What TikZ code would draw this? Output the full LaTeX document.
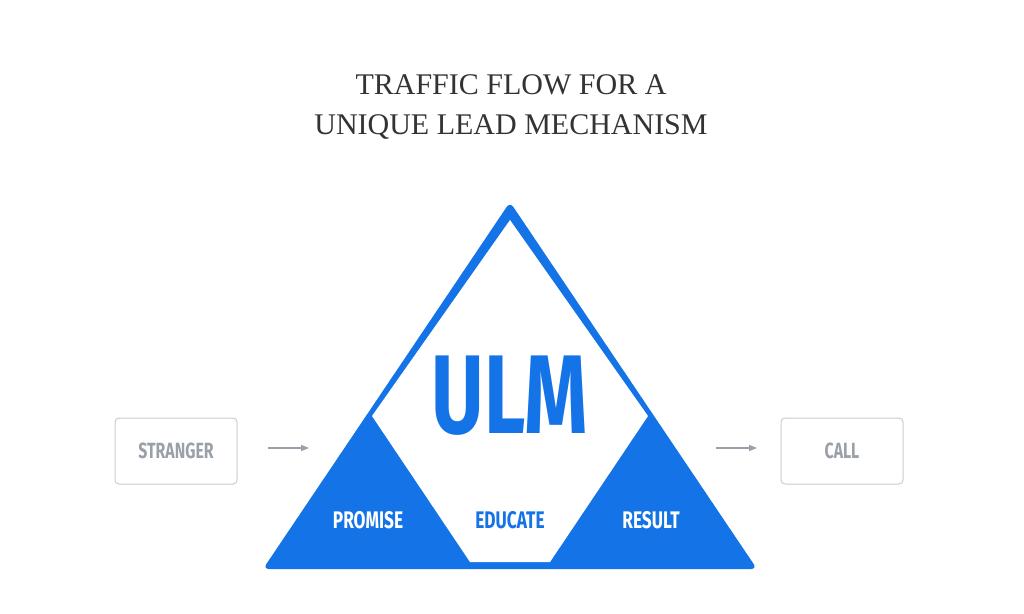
\documentclass[tikz,border=0pt]{standalone}
\usepackage{fontspec}
\setmainfont{Liberation Serif}
\newfontfamily\lbl{Fira Sans}
\usetikzlibrary{arrows.meta}
\definecolor{ulmblue}{HTML}{1473E6}
\definecolor{gr}{HTML}{9AA0A8}
\definecolor{grl}{HTML}{C8CCD1}
\newcommand{\cnd}[1]{\scalebox{0.72}[1]{#1}}
\begin{document}
\begin{tikzpicture}[x=1pt,y=-1pt,
  sbox/.style={draw=grl,line width=1pt,rounded corners=4pt,minimum width=122pt,minimum height=66pt,text=gr,font=\lbl\bfseries\fontsize{22}{22}\selectfont},
  arr/.style={draw=gr,line width=1.2pt,-{Triangle[length=8pt,width=6pt]}},
  wl/.style={text=white,font=\lbl\bfseries\fontsize{24}{24}\selectfont}]
\fill[white] (0,0) rectangle (1024,613);
\node[text=black!80,font=\fontsize{30}{40}\selectfont,align=center] (title) at (511,107) {TRAFFIC FLOW FOR A\\UNIQUE LEAD MECHANISM};
\fill[ulmblue,rounded corners=6pt] (510,202) -- (757,569) -- (263,569) -- cycle;
\fill[white] (510,220) -- (372,416) -- (470,562) -- (550,562) -- (648,416) -- cycle;
\node[text=ulmblue,font=\lbl\bfseries\fontsize{112}{112}\selectfont] (ulm) at (510,396) {\cnd{ULM}};
\node[wl] (p) at (368,520) {\cnd{PROMISE}};
\node[text=ulmblue,font=\lbl\bfseries\fontsize{24}{24}\selectfont] (e) at (510,520) {\cnd{EDUCATE}};
\node[wl] (r) at (651,520) {\cnd{RESULT}};
\node[sbox] (s) at (176,451) {\cnd{STRANGER}};
\node[sbox] (c) at (842,451) {\cnd{CALL}};
\coordinate (a1) at (268,448); \coordinate (a2) at (309,448);
\coordinate (b1) at (716,448); \coordinate (b2) at (757,448);
\draw[arr] (a1) -- (a2);
\draw[arr] (b1) -- (b2);
\end{tikzpicture}
\end{document}
